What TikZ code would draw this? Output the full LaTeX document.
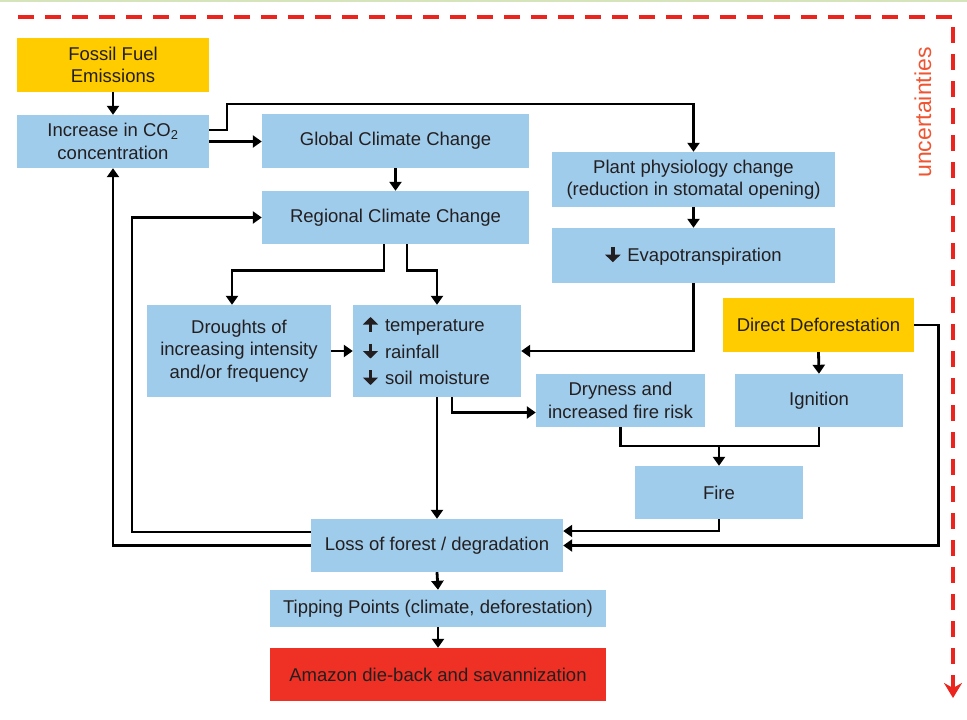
\documentclass[tikz,border=0pt]{standalone}
\usepackage{fontspec}
\setmainfont{Liberation Sans}
\usetikzlibrary{arrows.meta}
\definecolor{boxblue}{RGB}{160,204,236}
\definecolor{boxyellow}{RGB}{255,204,0}
\definecolor{boxred}{RGB}{238,49,36}
\definecolor{txt}{RGB}{35,31,32}
\definecolor{dashred}{RGB}{236,36,30}
\definecolor{uncert}{RGB}{240,85,50}
\definecolor{topline}{RGB}{214,228,188}
\newcommand{\upar}{\tikz[baseline=0pt,x=1pt,y=1pt]\draw[draw=txt,line width=3.6pt,-{Triangle[length=7.5pt,width=15pt]}] (0,-0.5) -- (0,14.5);\hspace{7pt}}
\newcommand{\dnar}{\tikz[baseline=0pt,x=1pt,y=1pt]\draw[draw=txt,line width=3.6pt,-{Triangle[length=7.5pt,width=15pt]}] (0,14.5) -- (0,-0.5);\hspace{7pt}}
\begin{document}
\begin{tikzpicture}[x=1pt,y=-1pt,
  bx/.style={fill=boxblue, inner sep=0pt, align=center, text=txt, font=\fontsize{18.5}{22.5}\selectfont},
  ybx/.style={bx, fill=boxyellow},
  rbx/.style={bx, fill=boxred},
  conn/.style={line width=2.8pt, draw=black},
  arr/.style={conn, -{Triangle[length=9pt,width=12pt]}},
  border/.style={draw=dashred, line width=4pt, dash pattern=on 16pt off 11pt, -{Stealth[length=15pt,width=18pt,inset=5pt]}}
]
\useasboundingbox (0,0) rectangle (967,720);
\fill[white] (0,0) rectangle (967,720);
\fill[topline] (0,0) rectangle (967,2);

% boxes
\node[ybx, minimum width=192pt, minimum height=54pt] (fossil) at (113,65) {Fossil Fuel\\Emissions};
\node[bx, minimum width=192pt, minimum height=53pt] (co2) at (113,141.5) {Increase in CO\textsubscript{2}\\concentration};
\node[bx, minimum width=267pt, minimum height=54pt] (global) at (395.5,141) {Global Climate Change};
\node[bx, minimum width=267pt, minimum height=53pt] (regional) at (395.5,217.5) {Regional Climate Change};
\node[bx, minimum width=283pt, minimum height=55pt] (plant) at (693.5,179.5) {Plant physiology change\\(reduction in stomatal opening)};
\node[bx, minimum width=283pt, minimum height=55pt] (evapo) at (693.5,255.5) {\dnar Evapotranspiration};
\node[bx, minimum width=184pt, minimum height=92pt] (droughts) at (239,351) {Droughts of\\increasing intensity\\and/or frequency};
\node[bx, minimum width=168pt, minimum height=92pt, text width=148pt, align=left, font=\fontsize{18.5}{26.5}\selectfont] (temp) at (437,351) {\upar temperature\\\dnar rainfall\\\dnar soil moisture};
\node[ybx, minimum width=191pt, minimum height=54pt] (defor) at (818.5,325) {Direct Deforestation};
\node[bx, minimum width=169pt, minimum height=53pt] (dryness) at (620.5,400.5) {Dryness and\\increased fire risk};
\node[bx, minimum width=168pt, minimum height=53pt] (ignition) at (819,400.5) {Ignition};
\node[bx, minimum width=168pt, minimum height=53pt] (fire) at (719,492.5) {Fire};
\node[bx, minimum width=252pt, minimum height=53pt] (loss) at (437,545.5) {Loss of forest / degradation};
\node[bx, minimum width=336pt, minimum height=37pt] (tipping) at (438,608.5) {Tipping Points (climate, deforestation)};
\node[rbx, minimum width=336pt, minimum height=53pt] (amazon) at (438,674.5) {Amazon die-back and savannization};

% connectors
\draw[arr] (fossil.south) -- (co2.north);
\draw[arr] (co2.east) -- (co2.east -| global.west);
\draw[arr] ([yshift=11.5pt]co2.east) -| (227,104) -| (plant.north);
\draw[arr] (global.south) -- (regional.north);
\draw[arr] (plant.south) -- (evapo.north);
\draw[arr] ([yshift=13.5pt]loss.west) -| (132,217.5) -- (regional.west);
\draw[arr] (loss.west) -| (co2.south);
\draw[arr] ([xshift=-11.5pt]regional.south) -- ++(0,26) -| ([xshift=-7pt]droughts.north);
\draw[arr] ([xshift=11.5pt]regional.south) -- ++(0,26) -| (temp.north);
\draw[arr] (droughts.east) -- (temp.west);
\draw[arr] (evapo.south) |- (temp.east);
\draw[arr] ([xshift=15pt]temp.south) |- ([yshift=-12pt]dryness.west);
\draw[arr] (temp.south) -- (loss.north);
\draw[arr] (defor.south) -- (ignition.north);
\coordinate (j) at (719,446);
\draw[conn] (dryness.south) |- (j) -| (ignition.south);
\draw[arr] (j) -- (fire.north);
\draw[arr] (fire.south) |- ([yshift=14.5pt]loss.east);
\draw[arr] (defor.east) -- ++(24,0) |- (loss.east);
\draw[arr] (loss.south) -- (tipping.north);
\draw[arr] (tipping.south) -- (amazon.north);

% uncertainties border
\coordinate (b0) at (18,17);
\coordinate (b1) at (953,17);
\coordinate (b2) at (953,698);
\draw[border] (b0) -- (b1) -- (b2);
\node[rotate=90, text=uncert, font=\fontsize{23}{23}\selectfont] (unc) at (923,112.5) {uncertainties};
\end{tikzpicture}
\end{document}
